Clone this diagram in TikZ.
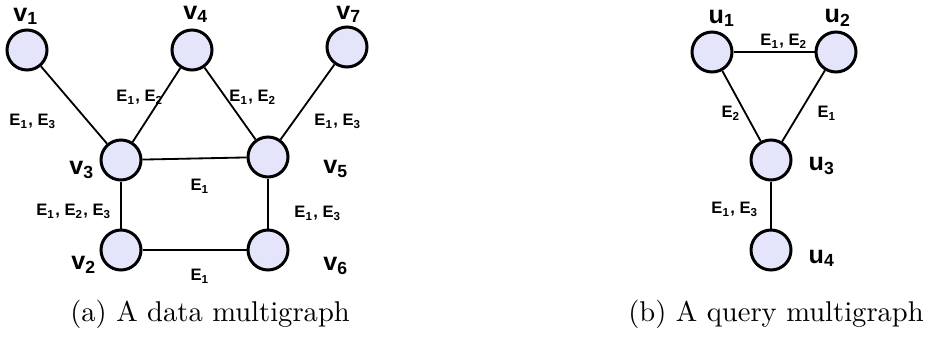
\documentclass[tikz,border=0pt]{standalone}
\usepackage{fontspec}
\newfontfamily\graphfont{Liberation Sans}
\usepackage{tikz}
\usetikzlibrary{positioning}
\definecolor{vtxfill}{RGB}{228,228,250}
\newcommand{\subix}[1]{\textsubscript{#1}}

\begin{document}
\begin{tikzpicture}[
  x=0.35pt, y=-0.35pt,
  vtx/.style={circle,draw=black,fill=vtxfill,line width=1.05pt,minimum size=14pt,inner sep=0pt},
  lbl/.style={font=\graphfont\bfseries\fontsize{8.8pt}{9pt}\selectfont,inner sep=0pt},
  elbl/.style={font=\graphfont\bfseries\fontsize{5.8pt}{6pt}\selectfont,inner sep=0pt},
  link/.style={line width=0.64pt},
  captxt/.style={font=\normalsize,inner sep=0pt},
]
\useasboundingbox (0,0) rectangle (928,339);

%% Data multigraph: vertices
\node[vtx] (v1) at (27,50) {};
\node[vtx] (v4) at (192,50) {};
\node[vtx] (v7) at (347,47) {};
\node[vtx] (v3) at (121,160) {};
\node[vtx] (v5) at (268,157) {};
\node[vtx] (v2) at (121,250) {};
\node[vtx] (v6) at (268,250) {};

\node[lbl] at (26,16) {v\subix{1}};
\node[lbl] at (196,14) {v\subix{4}};
\node[lbl] at (349,14) {v\subix{7}};
\node[lbl] at (82,170) {v\subix{3}};
\node[lbl] at (336,169) {v\subix{5}};
\node[lbl] at (84,265) {v\subix{2}};
\node[lbl] at (336,266) {v\subix{6}};

%% Data multigraph: edges
\draw[link] (v1) -- (v3);
\draw[link] (v3) -- (v4);
\draw[link] (v4) -- (v5);
\draw[link] (v7) -- (v5);
\draw[link] (v3) -- (v5);
\draw[link] (v3) -- (v2);
\draw[link] (v5) -- (v6);
\draw[link] (v2) -- (v6);

\node[elbl] at (33,121) {E\subix{1}, E\subix{3}};
\node[elbl] at (140,97) {E\subix{1}, E\subix{2}};
\node[elbl] at (253,97) {E\subix{1}, E\subix{2}};
\node[elbl] at (338,121) {E\subix{1}, E\subix{3}};
\node[elbl] at (200,186) {E\subix{1}};
\node[elbl] at (74,211) {E\subix{1}, E\subix{2}, E\subix{3}};
\node[elbl] at (318,213) {E\subix{1}, E\subix{3}};
\node[elbl] at (200,276) {E\subix{1}};

%% Query multigraph: vertices
\node[vtx] (u1) at (712,52) {};
\node[vtx] (u2) at (836,52) {};
\node[vtx] (u3) at (771,160) {};
\node[vtx] (u4) at (771,250) {};

\node[lbl] at (722,18) {u\subix{1}};
\node[lbl] at (838,18) {u\subix{2}};
\node[lbl] at (822,166) {u\subix{3}};
\node[lbl] at (822,258) {u\subix{4}};

%% Query multigraph: edges
\draw[link] (u1) -- (u2);
\draw[link] (u1) -- (u3);
\draw[link] (u2) -- (u3);
\draw[link] (u3) -- (u4);

\node[elbl] at (784,41) {E\subix{1}, E\subix{2}};
\node[elbl] at (731,113) {E\subix{2}};
\node[elbl] at (827,113) {E\subix{1}};
\node[elbl] at (735,209) {E\subix{1}, E\subix{3}};

%% Captions
\node[captxt] (capa) at (210,314) {(a) A data multigraph};
\node[captxt] (capb) at (776,314) {(b) A query multigraph};
\end{tikzpicture}
\end{document}
